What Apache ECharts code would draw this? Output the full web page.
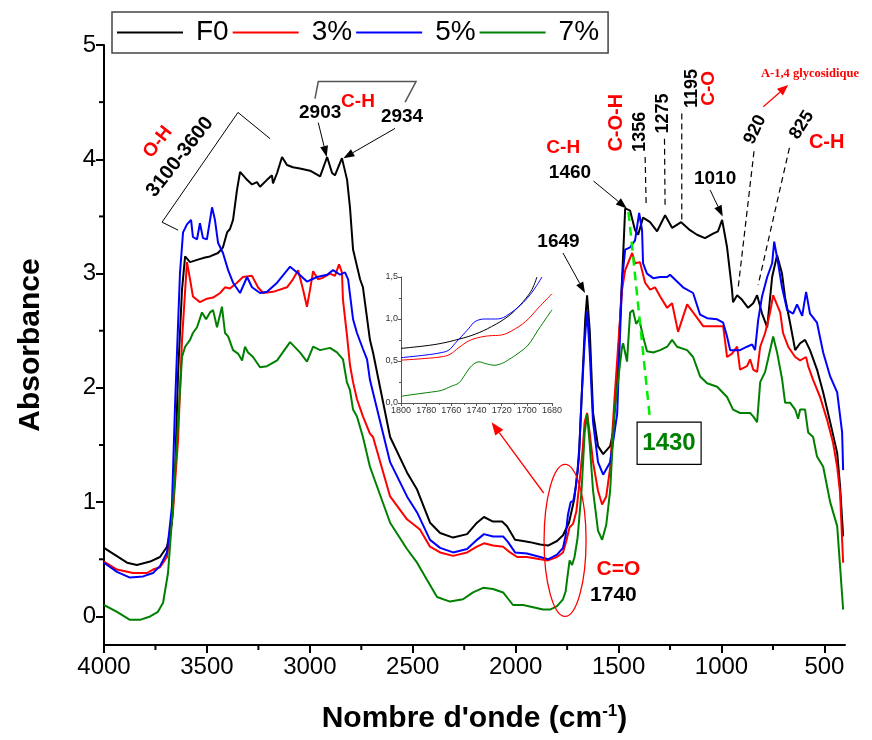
<!DOCTYPE html>
<html>
<head>
<meta charset="utf-8">
<script src="https://cdn.jsdelivr.net/npm/echarts@6/dist/echarts.min.js"></script>
<style>
  html, body { margin: 0; padding: 0; background: #fff; }
  #chart { width: 872px; height: 740px; }
</style>
</head>
<body>
<div id="chart"></div>
<script>
// FTIR spectra: [wavenumber (cm-1), absorbance]
const f0 = [[4000,0.60],[3888,0.47],[3840,0.45],[3776,0.48],[3728,0.52],[3694,0.61],[3670,0.82],[3655,1.26],[3640,2.13],[3621,2.86],[3606,3.15],[3582,3.10],[3548,3.12],[3509,3.14],[3485,3.15],[3446,3.18],[3422,3.23],[3402,3.36],[3388,3.39],[3373,3.47],[3354,3.73],[3339,3.89],[3305,3.82],[3281,3.78],[3257,3.80],[3242,3.76],[3208,3.82],[3184,3.86],[3179,3.79],[3159,3.88],[3135,4.02],[3111,3.95],[3082,3.93],[3048,3.92],[2999,3.90],[2950,3.85],[2916,4.02],[2892,3.88],[2878,3.86],[2844,4.01],[2819,3.82],[2805,3.58],[2790,3.21],[2756,2.95],[2742,2.88],[2708,2.42],[2693,2.31],[2610,1.57],[2528,1.26],[2479,1.11],[2416,0.82],[2367,0.73],[2304,0.69],[2236,0.72],[2188,0.82],[2154,0.87],[2110,0.83],[2066,0.83],[2042,0.79],[2003,0.67],[1964,0.66],[1930,0.65],[1881,0.63],[1843,0.62],[1799,0.66],[1770,0.71],[1741,0.82],[1715,1.03],[1699,1.28],[1690,1.50],[1675,2.10],[1662,2.60],[1653,2.81],[1640,2.50],[1624,1.78],[1600,1.49],[1575,1.42],[1541,1.49],[1527,1.61],[1507,2.08],[1483,2.95],[1468,3.57],[1444,3.55],[1420,3.38],[1405,3.34],[1381,3.49],[1347,3.45],[1313,3.37],[1274,3.51],[1240,3.40],[1196,3.45],[1153,3.38],[1119,3.34],[1080,3.31],[1041,3.35],[1017,3.37],[997,3.47],[973,3.23],[949,2.86],[944,2.75],[924,2.81],[900,2.77],[871,2.70],[846,2.74],[827,2.81],[803,2.65],[778,2.53],[754,2.97],[730,3.16],[706,3.00],[691,2.79],[667,2.57],[642,2.33],[618,2.39],[594,2.42],[570,2.33],[536,2.16],[506,1.96],[472,1.70],[438,1.43],[424,1.14],[409,0.70]];

const pct3 = [[4000,0.48],[3937,0.41],[3859,0.38],[3791,0.38],[3762,0.41],[3728,0.43],[3694,0.52],[3665,0.91],[3640,1.55],[3621,2.42],[3597,3.10],[3582,2.95],[3568,2.80],[3534,2.75],[3500,2.78],[3470,2.79],[3436,2.83],[3412,2.88],[3388,2.87],[3354,2.92],[3325,2.97],[3281,2.98],[3252,2.88],[3227,2.83],[3179,2.84],[3111,2.88],[3082,2.95],[3057,3.03],[3033,2.86],[3014,2.71],[2999,2.86],[2984,3.02],[2960,2.95],[2941,2.96],[2902,3.00],[2878,2.98],[2858,3.08],[2844,3.01],[2839,2.77],[2819,2.45],[2805,2.20],[2790,2.05],[2771,1.90],[2742,1.75],[2708,1.60],[2693,1.57],[2610,1.05],[2528,0.85],[2465,0.76],[2416,0.61],[2367,0.56],[2304,0.53],[2236,0.56],[2188,0.61],[2154,0.64],[2110,0.62],[2061,0.61],[2027,0.56],[1993,0.52],[1945,0.52],[1881,0.50],[1843,0.49],[1799,0.52],[1770,0.56],[1754,0.66],[1738,0.78],[1721,0.81],[1705,0.92],[1690,1.17],[1675,1.45],[1665,1.70],[1653,1.78],[1640,1.60],[1624,1.35],[1600,1.10],[1580,0.98],[1560,1.05],[1541,1.30],[1520,1.90],[1483,2.86],[1468,3.03],[1434,3.18],[1420,3.09],[1396,3.10],[1371,2.92],[1347,2.86],[1323,2.88],[1298,2.80],[1264,2.70],[1240,2.74],[1211,2.49],[1167,2.73],[1138,2.66],[1089,2.54],[1041,2.54],[992,2.54],[973,2.27],[949,2.30],[924,2.36],[910,2.16],[876,2.19],[861,2.25],[846,2.16],[827,2.14],[812,2.36],[788,2.48],[764,2.66],[749,2.81],[715,2.66],[701,2.48],[676,2.36],[642,2.27],[618,2.24],[589,2.27],[579,2.19],[555,2.07],[521,1.92],[487,1.72],[458,1.52],[438,1.31],[424,1.08],[409,0.47]];

const pct5 = [[4000,0.47],[3937,0.39],[3874,0.34],[3810,0.35],[3762,0.38],[3728,0.44],[3694,0.56],[3670,0.96],[3655,1.84],[3631,3.00],[3616,3.36],[3597,3.43],[3577,3.47],[3568,3.32],[3548,3.30],[3534,3.44],[3519,3.31],[3500,3.30],[3475,3.58],[3461,3.47],[3446,3.27],[3422,3.18],[3397,3.03],[3373,2.92],[3339,2.83],[3305,2.97],[3281,2.88],[3242,2.83],[3208,2.84],[3159,2.92],[3096,3.06],[3062,3.01],[3014,2.93],[2965,2.97],[2916,2.99],[2887,3.03],[2853,2.99],[2829,3.01],[2814,2.95],[2790,2.60],[2771,2.48],[2742,2.34],[2722,2.25],[2708,2.07],[2693,1.96],[2610,1.35],[2528,1.05],[2479,0.91],[2416,0.67],[2367,0.60],[2304,0.56],[2236,0.59],[2188,0.67],[2154,0.72],[2110,0.70],[2061,0.70],[2037,0.65],[2003,0.56],[1945,0.55],[1881,0.52],[1843,0.50],[1799,0.54],[1770,0.60],[1757,0.71],[1746,0.89],[1733,1.00],[1720,1.01],[1707,1.14],[1693,1.38],[1680,1.90],[1665,2.40],[1653,2.67],[1640,2.30],[1624,1.70],[1600,1.35],[1575,1.24],[1541,1.35],[1507,1.77],[1483,2.95],[1468,3.21],[1444,3.23],[1420,3.29],[1400,3.53],[1386,3.38],[1381,3.09],[1362,3.00],[1332,2.96],[1298,2.97],[1264,2.97],[1250,2.99],[1216,2.93],[1187,2.88],[1138,2.83],[1104,2.64],[1070,2.61],[1021,2.60],[992,2.57],[973,2.45],[958,2.33],[910,2.33],[876,2.36],[851,2.38],[837,2.33],[822,2.59],[803,2.80],[778,2.97],[754,3.09],[744,3.28],[725,3.09],[706,2.88],[681,2.68],[652,2.65],[633,2.73],[608,2.63],[589,2.84],[570,2.65],[536,2.57],[506,2.31],[472,2.10],[438,1.96],[414,1.61],[409,1.28]];

const pct7 = [[4000,0.10],[3937,0.04],[3874,-0.03],[3825,-0.03],[3776,0.00],[3738,0.04],[3713,0.12],[3689,0.38],[3665,0.96],[3645,1.55],[3621,2.27],[3606,2.36],[3582,2.42],[3568,2.48],[3548,2.53],[3524,2.66],[3504,2.60],[3485,2.66],[3470,2.68],[3451,2.53],[3427,2.71],[3412,2.48],[3397,2.45],[3373,2.33],[3349,2.30],[3329,2.24],[3315,2.36],[3300,2.31],[3276,2.27],[3242,2.18],[3208,2.19],[3159,2.24],[3096,2.40],[3048,2.31],[3014,2.23],[2984,2.36],[2950,2.33],[2902,2.35],[2868,2.31],[2839,2.25],[2820,2.05],[2805,1.98],[2790,1.81],[2771,1.75],[2742,1.57],[2708,1.31],[2610,0.82],[2528,0.59],[2479,0.47],[2431,0.32],[2382,0.17],[2319,0.13],[2256,0.15],[2207,0.21],[2158,0.25],[2110,0.24],[2061,0.21],[2013,0.10],[1964,0.10],[1915,0.08],[1867,0.06],[1833,0.06],[1799,0.09],[1770,0.15],[1757,0.22],[1749,0.34],[1738,0.49],[1726,0.45],[1714,0.52],[1699,0.69],[1680,1.10],[1665,1.60],[1653,1.77],[1640,1.50],[1624,1.10],[1600,0.75],[1580,0.67],[1560,0.80],[1541,1.10],[1520,1.80],[1483,2.36],[1478,2.39],[1459,2.23],[1444,2.66],[1430,2.68],[1415,2.56],[1400,2.60],[1381,2.45],[1362,2.32],[1332,2.31],[1298,2.33],[1264,2.36],[1240,2.42],[1216,2.36],[1167,2.33],[1138,2.27],[1104,2.10],[1070,2.04],[1021,2.01],[973,1.92],[944,1.81],[910,1.78],[861,1.78],[846,1.75],[827,1.70],[812,2.05],[788,2.14],[774,2.25],[749,2.45],[730,2.31],[706,2.08],[691,1.87],[667,1.87],[642,1.81],[628,1.73],[618,1.81],[594,1.81],[579,1.61],[555,1.57],[536,1.40],[506,1.31],[472,1.00],[438,0.79],[424,0.44],[409,0.06]];

// Carbonyl region detail (1800-1680 cm-1)
const zoomF0 = [[1800,0.65],[1781,0.68],[1768,0.71],[1754,0.76],[1741,0.82],[1728,0.91],[1715,1.03],[1707,1.14],[1699,1.28],[1695,1.38],[1692,1.50]];
const zoom3 = [[1800,0.51],[1781,0.53],[1768,0.55],[1761,0.58],[1754,0.66],[1746,0.74],[1738,0.78],[1730,0.80],[1720,0.81],[1712,0.86],[1701,0.97],[1691,1.13],[1680,1.30]];
const zoom5 = [[1800,0.54],[1781,0.57],[1768,0.60],[1762,0.63],[1757,0.71],[1752,0.79],[1746,0.89],[1741,0.97],[1733,1.00],[1725,1.00],[1720,1.01],[1715,1.05],[1707,1.14],[1699,1.26],[1693,1.38],[1688,1.50]];
const zoom7 = [[1800,0.08],[1786,0.11],[1776,0.13],[1768,0.15],[1760,0.20],[1754,0.24],[1749,0.34],[1744,0.44],[1738,0.49],[1733,0.47],[1726,0.45],[1720,0.47],[1714,0.52],[1707,0.59],[1699,0.69],[1691,0.87],[1680,1.11]];

const seriesNames = ['F0', '3%', '5%', '7%'];
const seriesColors = ['#000000', '#ff0000', '#0000ff', '#008000'];
const mainData = [f0, pct3, pct5, pct7];
const zoomData = [zoomF0, zoom3, zoom5, zoom7];

const xMajor = [4000, 3500, 3000, 2500, 2000, 1500, 1000, 500];
const xMinor = [3750, 3250, 2750, 2250, 1750, 1250, 750];
const yMajor = [0, 1, 2, 3, 4, 5];
const yMinor = [0.5, 1.5, 2.5, 3.5, 4.5];
const X_MIN = 400, X_MAX = 4000, Y_MIN = -0.25, Y_MAX = 5;

const SANS = '"Liberation Sans", Arial, sans-serif';
const RED = '#ff0000';
const plain = v => String(v);

const chart = echarts.init(document.getElementById('chart'), null, { renderer: 'canvas' });

const option = {
  backgroundColor: '#fff',
  animation: false,
  textStyle: { fontFamily: SANS },
  legend: {
    data: seriesNames,
    left: 112, top: 12,
    orient: 'horizontal',
    padding: [5, 9, 5, 5],
    itemGap: 4,
    itemWidth: 66, itemHeight: 2,
    icon: 'rect',
    borderColor: '#444', borderWidth: 1.5,
    selectedMode: false,
    textStyle: { fontSize: 28, color: '#000', fontFamily: SANS, padding: [0, 0, 0, 8], lineHeight: 31 }
  },
  grid: [
    { left: 104, right: 27, top: 45, bottom: 95, containLabel: false },
    { left: 401, top: 277, width: 151, height: 126, containLabel: false }
  ],
  xAxis: [
    {
      type: 'value', gridIndex: 0, min: X_MIN, max: X_MAX, inverse: true, position: 'bottom',
      axisLine: { show: true, onZero: false, lineStyle: { color: '#000', width: 2 } },
      axisTick: { show: true, inside: false, length: 8, lineStyle: { width: 2, color: '#000' }, customValues: xMajor },
      axisLabel: { show: true, customValues: xMajor, formatter: plain, fontSize: 24, color: '#000', margin: 10, fontFamily: SANS },
      splitLine: { show: false },
      name: "Nombre d'onde (cm{sup|-1})",
      nameLocation: 'middle', nameGap: 58,
      nameTextStyle: {
        fontSize: 30, fontWeight: 'bold', color: '#000', fontFamily: SANS,
        rich: { sup: { fontSize: 17, fontWeight: 'bold', verticalAlign: 'top', padding: [0, 0, 14, 0], fontFamily: SANS } }
      }
    },
    {
      type: 'value', gridIndex: 1, min: 1680, max: 1800, interval: 20, inverse: true,
      axisLine: { show: true, onZero: false, lineStyle: { color: '#555', width: 1 } },
      axisTick: { show: true, length: 3, lineStyle: { color: '#555', width: 1 } },
      minorTick: { show: true, splitNumber: 2, length: 2, lineStyle: { color: '#555', width: 1 } },
      axisLabel: { fontSize: 9, color: '#333', margin: 3, fontFamily: SANS, formatter: plain },
      splitLine: { show: false }
    }
  ],
  yAxis: [
    {
      type: 'value', gridIndex: 0, min: Y_MIN, max: Y_MAX, position: 'left',
      axisLine: { show: true, onZero: false, lineStyle: { color: '#000', width: 2 } },
      axisTick: { show: true, inside: false, length: 8, lineStyle: { width: 2, color: '#000' }, customValues: yMajor },
      axisLabel: { show: true, customValues: yMajor, formatter: plain, fontSize: 24, color: '#000', margin: 8, fontFamily: SANS },
      splitLine: { show: false },
      name: 'Absorbance', nameLocation: 'middle', nameGap: 58, nameRotate: 90,
      nameTextStyle: { fontSize: 30, fontWeight: 'bold', color: '#000', fontFamily: SANS }
    },
    {
      type: 'value', gridIndex: 1, min: 0, max: 1.5, interval: 0.5,
      axisLine: { show: true, onZero: false, lineStyle: { color: '#555', width: 1 } },
      axisTick: { show: true, length: 3, lineStyle: { color: '#555', width: 1 } },
      minorTick: { show: true, splitNumber: 2, length: 2, lineStyle: { color: '#555', width: 1 } },
      axisLabel: { fontSize: 9, color: '#333', margin: 3, fontFamily: SANS,
        formatter: v => v.toFixed(1).replace('.', ',') },
      splitLine: { show: false }
    }
  ],
  series: [
    ...mainData.map((d, i) => ({
      name: seriesNames[i], type: 'line', xAxisIndex: 0, yAxisIndex: 0,
      data: d, symbol: 'none', smooth: false, clip: true,
      lineStyle: { color: seriesColors[i], width: 2 },
      itemStyle: { color: seriesColors[i] },
      z: 2 + i
    })),
    ...zoomData.map((d, i) => ({
      name: seriesNames[i] + ' (1800-1680)', type: 'line', xAxisIndex: 1, yAxisIndex: 1,
      data: d, symbol: 'none', smooth: 0.4, clip: true,
      lineStyle: { color: seriesColors[i], width: 1 },
      itemStyle: { color: seriesColors[i] },
      z: 2 + i
    }))
  ]
};

chart.setOption(option);

const P = (w, a) => chart.convertToPixel({ gridIndex: 0 }, [w, a]);
const g = [];

// minor ticks on the main axes (between labelled values)
xMinor.forEach(v => {
  const [x, y] = P(v, Y_MIN);
  g.push({ type: 'line', z: 40, shape: { x1: x, y1: y, x2: x, y2: y + 5 }, style: { stroke: '#000', lineWidth: 2 } });
});
yMinor.forEach(v => {
  const [x, y] = P(X_MAX, v);
  g.push({ type: 'line', z: 40, shape: { x1: x, y1: y, x2: x - 5, y2: y }, style: { stroke: '#000', lineWidth: 2 } });
});

// ---- band assignments and markers, placed in data coordinates ----
function label(t, w, a, o = {}) {
  const [x, y] = P(w, a);
  g.push({
    type: 'text', x, y, z: 60,
    rotation: (o.rot || 0) * Math.PI / 180,
    style: {
      text: t, fill: o.color || '#000',
      font: (o.weight || 'bold') + ' ' + (o.size || 19) + 'px ' + (o.family || SANS),
      align: 'center', verticalAlign: 'middle'
    }
  });
}
function seg(p, q, color, width, dash) {
  const [x1, y1] = P(p[0], p[1]);
  const [x2, y2] = P(q[0], q[1]);
  g.push({ type: 'line', z: 55, shape: { x1, y1, x2, y2 },
    style: { stroke: color, lineWidth: width, lineDash: dash || null } });
}
function path(pts, color, width) {
  g.push({ type: 'polyline', z: 55, shape: { points: pts.map(p => P(p[0], p[1])) },
    style: { stroke: color, lineWidth: width, fill: null } });
}
function arrow(p, q, color, width, len, half) {
  const [x1, y1] = P(p[0], p[1]);
  const [x2, y2] = P(q[0], q[1]);
  const ang = Math.atan2(y2 - y1, x2 - x1);
  const bx = x2 - len * Math.cos(ang), by = y2 - len * Math.sin(ang);
  const nx = -Math.sin(ang) * half, ny = Math.cos(ang) * half;
  g.push({ type: 'line', z: 55, shape: { x1, y1, x2: bx, y2: by }, style: { stroke: color, lineWidth: width } });
  g.push({ type: 'polygon', z: 56, shape: { points: [[x2, y2], [bx + nx, by + ny], [bx - nx, by - ny]] },
    style: { fill: color } });
}

// O-H stretching band
path([[3640, 3.38], [3718, 3.45], [3349, 4.41], [3193, 4.18]], '#000', 1);
label('O-H', 3738, 4.15, { color: RED, rot: 52 });
label('3100-3600', 3631, 4.02, { rot: 52, size: 20 });

// C-H stretching pair
path([[2975, 4.53], [2959, 4.68], [2484, 4.68], [2537, 4.50]], '#555', 1.5);
label('2903', 2950, 4.41);
label('C-H', 2766, 4.50, { color: RED });
label('2934', 2552, 4.37);
arrow([2959, 4.32], [2918, 4.02], '#000', 1, 11, 4);
arrow([2586, 4.27], [2837, 4.01], '#000', 1, 11, 4);

// fingerprint region
label('C-H', 1769, 4.10, { color: RED });
label('1460', 1736, 3.88);
arrow([1622, 3.81], [1460, 3.57], '#000', 1, 11, 4);

label('C-O-H', 1509, 4.32, { color: RED, rot: 90, size: 20 });
label('1356', 1396, 4.24, { rot: 90, size: 18 });
label('1275', 1282, 4.40, { rot: 90, size: 18 });
label('1195', 1144, 4.62, { rot: 90, size: 18 });
label('C-O', 1060, 4.62, { color: RED, rot: 90 });
seg([1371, 4.02], [1366, 3.59], '#000', 1.2, [6, 4]);
seg([1277, 4.18], [1274, 3.57], '#000', 1.2, [6, 4]);
seg([1193, 4.40], [1193, 3.47], '#000', 1.2, [6, 4]);

label('1010', 1031, 3.83);
arrow([1055, 3.73], [994, 3.50], '#000', 1, 11, 4);

label('920', 837, 4.26, { rot: 65, size: 18 });
seg([842, 4.07], [920, 2.86], '#000', 1.2, [6, 4]);
label('825', 610, 4.30, { rot: 58, size: 18 });
seg([670, 4.10], [822, 2.90], '#000', 1.2, [6, 4]);
label('C-H', 489, 4.15, { color: RED, size: 20 });

label('A-1,4 glycosidique', 570, 4.75, { color: RED, size: 12.5, family: '"Liberation Serif", "Times New Roman", serif' });
arrow([797, 4.46], [676, 4.65], RED, 1.2, 11, 4.5);

label('1649', 1792, 3.28);
arrow([1770, 3.18], [1663, 2.83], '#000', 1, 11, 4);

// 1430 band marker
seg([1452, 3.54], [1347, 1.72], '#00ee00', 2.5, [9, 6]);
(function () {
  const [x1, y1] = P(1410, 1.70);
  const [x2, y2] = P(1099, 1.33);
  g.push({ type: 'rect', z: 55, shape: { x: x1, y: y1, width: x2 - x1, height: y2 - y1 },
    style: { stroke: '#000', lineWidth: 1.2, fill: '#fff' } });
})();
label('1430', 1255, 1.51, { color: '#008000', size: 24 });

// carbonyl band: ellipse and pointer to the detail view
(function () {
  const [cx, cy] = P(1760, 0.665);
  const [xl] = P(1862, 0);
  const [, yt] = P(0, 1.33);
  g.push({ type: 'ellipse', z: 55, shape: { cx, cy, rx: Math.abs(xl - cx), ry: Math.abs(cy - yt) },
    style: { stroke: RED, lineWidth: 1.3, fill: null } });
})();
arrow([1864, 1.08], [2117, 1.70], RED, 1.3, 13, 5);
label('C=O', 1501, 0.41, { color: RED, size: 21 });
label('1740', 1525, 0.19, { size: 21 });

chart.setOption({ graphic: g });
</script>
</body>
</html>
